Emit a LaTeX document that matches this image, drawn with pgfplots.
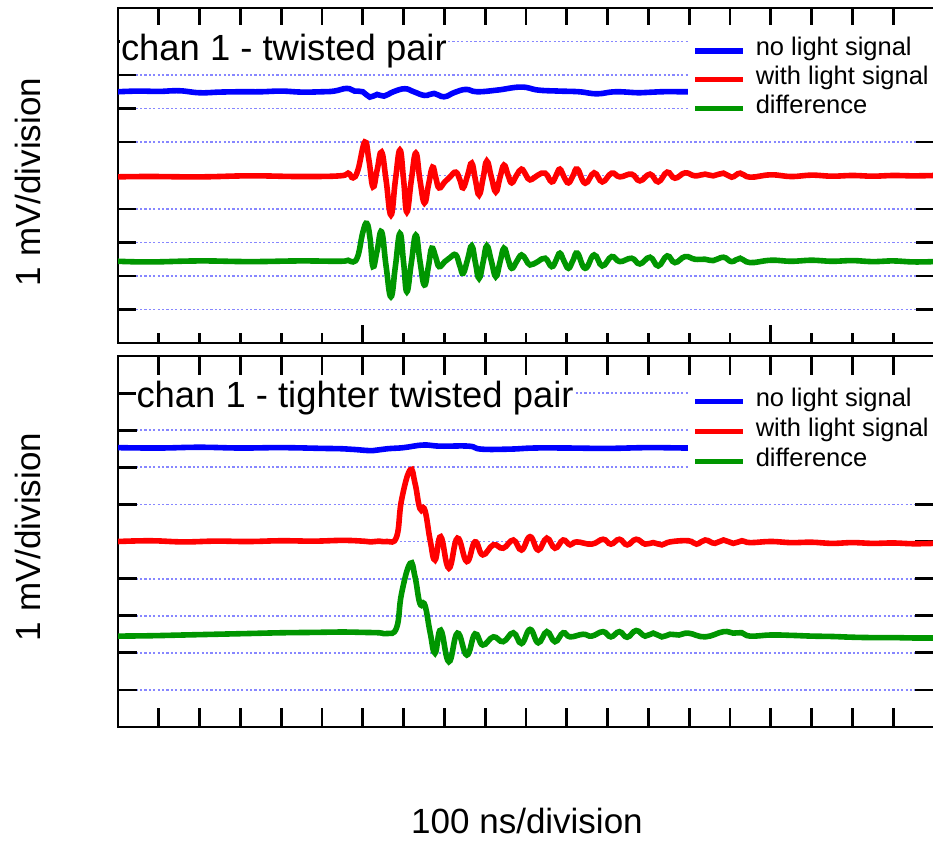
\documentclass[border=0pt]{standalone}
\usepackage{pgfplots}
\pgfplotsset{compat=1.18}
\usepackage{fontspec}
\setmainfont{Liberation Sans}

\definecolor{sigblue}{RGB}{0,0,255}
\definecolor{sigred}{RGB}{255,0,0}
\definecolor{siggreen}{RGB}{0,150,0}
\definecolor{gridblue}{RGB}{135,135,255}

% one oscilloscope panel: 20 x 10 divisions, no numbers
\pgfplotsset{
  scopepanel/.style={
    scale only axis, width=408pt,
    xmin=0, xmax=20, ymin=0, ymax=10,
    ytick={1,...,9},
    xticklabels={}, yticklabels={},
    tick align=inside,
    axis line style={line width=1.4pt},
    every tick/.append style={black, line width=1.4pt},
    ymajorgrids,
    major grid style={gridblue, line width=0.9pt, dash pattern=on 1.1pt off 1.1pt},
    legend image code/.code={\draw[#1, line width=2.7pt] (0pt,0pt) -- (24pt,0pt);},
    legend style={anchor=north west, draw=none, fill=white,
      inner xsep=2pt, inner ysep=0pt,
      font=\fontsize{12.75}{14}\selectfont,
      nodes={inner sep=0pt, text height=9.6pt, text depth=4.75pt},
      row sep=0pt, column sep=5pt},
    legend cell align=left,
  },
  trace/.style={line width=2.8pt, smooth, tension=0.75},
}

\begin{document}
\begin{tikzpicture}

% ---------- chan 1 - twisted pair ----------
\begin{axis}[scopepanel, at={(59pt,-4pt)}, anchor=north west, height=167.5pt,
    xtick pos=bottom,
    xtick={6,16},
    minor xtick={1,2,3,4,5,7,8,9,10,11,12,13,14,15,17,18,19},
    major tick length=9pt, minor tick length=5pt,
    legend style={at={(0.6985,0.916)}}]
\addplot[sigblue, trace] coordinates {
(0,7.50)(0.5,7.52)(1.0,7.51)(1.5,7.53)(2.0,7.47)(2.5,7.49)(3.0,7.50)(3.5,7.50)
(4.0,7.52)(4.5,7.49)(5.0,7.50)(5.3,7.52)(5.61,7.60)(5.8,7.52)(6.0,7.50)(6.17,7.34)
(6.35,7.42)(6.52,7.37)(6.75,7.50)(7.03,7.59)(7.25,7.50)(7.52,7.39)(7.75,7.45)(7.99,7.35)
(8.25,7.48)(8.53,7.57)(8.8,7.50)(9.3,7.55)(9.88,7.64)(10.3,7.55)(10.8,7.52)(11.3,7.50)
(11.74,7.44)(12.2,7.50)(12.8,7.47)(13.3,7.50)(14,7.50)(15,7.50)(16,7.49)(17,7.50)
(18,7.51)(19,7.50)(19.7,7.56)(20,7.55)};
\addplot[sigred, trace] coordinates {
(0,4.96)(0.78,4.97)(2.01,4.96)(3.24,4.99)(4.46,4.97)(5.44,4.99)(5.64,5.07)(5.76,4.93)
(5.88,5.16)(6.05,6.0)(6.15,5.46)(6.25,4.66)(6.35,5.16)(6.46,5.70)(6.57,4.87)(6.69,3.82)
(6.80,4.87)(6.91,5.76)(7.00,4.87)(7.08,3.91)(7.19,4.87)(7.30,5.67)(7.40,4.87)(7.51,4.18)
(7.61,4.72)(7.71,5.25)(7.79,4.93)(7.87,4.63)(8.01,4.81)(8.14,4.96)(8.28,5.10)(8.38,4.87)
(8.46,4.63)(8.57,5.01)(8.67,5.37)(8.76,4.87)(8.85,4.42)(8.95,4.93)(9.04,5.43)(9.15,4.96)
(9.26,4.51)(9.36,4.93)(9.46,5.31)(9.56,5.01)(9.65,4.78)(9.77,5.01)(9.89,5.19)(10.0,5.01)
(10.10,4.87)(10.29,5.01)(10.47,5.07)(10.63,4.81)(10.74,5.01)(10.83,5.19)(10.93,4.96)(11.04,4.78)
(11.15,4.99)(11.26,5.19)(11.45,4.77)(11.67,5.08)(11.87,4.81)(12.10,5.07)(12.30,4.96)(12.59,5.04)
(12.79,4.84)(13.04,5.04)(13.24,4.81)(13.46,5.10)(13.65,4.92)(13.90,5.08)(14.14,4.99)(14.39,5.04)
(14.59,4.99)(14.84,5.07)(15.04,4.95)(15.25,5.07)(15.49,4.95)(16,5.02)(16.5,4.97)(17,5.01)
(17.5,4.98)(18,5.0)(18.5,4.98)(19,5.0)(19.5,4.99)(20,5.0)};
\addplot[siggreen, trace] coordinates {
(0,2.44)(0.78,2.42)(2.01,2.45)(3.24,2.43)(4.46,2.45)(5.44,2.44)(5.64,2.47)(5.76,2.42)
(5.88,2.60)(6.0,3.3)(6.10,3.57)(6.18,3.10)(6.25,2.28)(6.35,2.75)(6.46,3.32)(6.57,2.30)
(6.69,1.38)(6.80,2.30)(6.91,3.27)(7.00,2.40)(7.08,1.53)(7.19,2.40)(7.30,3.22)(7.40,2.45)
(7.51,1.73)(7.61,2.30)(7.69,2.83)(7.79,2.55)(7.87,2.28)(8.01,2.43)(8.14,2.55)(8.28,2.63)
(8.38,2.30)(8.46,2.08)(8.57,2.50)(8.67,2.90)(8.76,2.40)(8.85,1.93)(8.95,2.42)(9.04,2.90)
(9.15,2.45)(9.26,1.98)(9.36,2.40)(9.46,2.83)(9.56,2.50)(9.65,2.23)(9.77,2.43)(9.89,2.63)
(10.0,2.48)(10.10,2.33)(10.29,2.43)(10.47,2.53)(10.63,2.28)(10.74,2.48)(10.83,2.68)(10.93,2.45)
(11.04,2.23)(11.15,2.46)(11.26,2.68)(11.45,2.23)(11.67,2.63)(11.87,2.30)(12.10,2.58)(12.30,2.43)
(12.59,2.53)(12.79,2.36)(13.04,2.56)(13.24,2.30)(13.46,2.60)(13.65,2.40)(13.90,2.58)(14.14,2.50)
(14.39,2.50)(14.59,2.46)(14.84,2.56)(15.04,2.43)(15.25,2.53)(15.49,2.40)(16,2.47)(16.5,2.44)
(17,2.47)(17.5,2.44)(18,2.46)(18.5,2.43)(19,2.45)(19.5,2.42)(20,2.43)};
\legend{no light signal, with light signal, difference}
\node[anchor=base west, fill=white, inner xsep=0.5pt, inner ysep=2pt,
      font=\fontsize{18.2}{21}\selectfont] at (rel axis cs:0.002,0.842) {chan 1 - twisted pair};
\end{axis}
% longer ticks along the top edge of the upper panel
\begin{axis}[scale only axis, width=408pt, height=167.5pt,
    at={(59pt,-4pt)}, anchor=north west,
    xmin=0, xmax=20, ymin=0, ymax=10,
    axis x line*=top, axis y line=none,
    xtick={1,...,19}, xticklabels={}, tick align=inside,
    major tick length=8.5pt,
    axis line style={line width=1.4pt},
    every tick/.append style={black, line width=1.4pt}]
\end{axis}

% ---------- chan 1 - tighter twisted pair ----------
\begin{axis}[scopepanel, at={(59pt,-178pt)}, anchor=north west, height=185.5pt,
    xtick={1,...,19},
    major tick length=9.5pt,
    legend style={at={(0.6985,0.919)}, nodes={text height=10.1pt, text depth=4.9pt}}]
\addplot[sigblue, trace] coordinates {
(0,7.53)(1,7.52)(2,7.54)(3,7.52)(4,7.53)(5,7.51)(5.5,7.50)(5.8,7.48)
(6.25,7.45)(6.6,7.50)(7.0,7.53)(7.48,7.60)(7.9,7.57)(8.6,7.57)(8.9,7.49)(9.6,7.49)
(10.2,7.52)(11,7.52)(12,7.51)(13,7.53)(14,7.52)(15,7.52)(16,7.51)(17,7.53)
(18,7.52)(19,7.52)(20,7.53)};
\addplot[sigred, trace] coordinates {
(0,5.00)(0.8,5.02)(1.6,4.99)(2.4,5.01)(3.2,5.00)(4.0,5.02)(4.8,5.01)(5.5,5.03)
(6.0,5.01)(6.2,4.99)(6.4,5.01)(6.6,5.0)(6.83,5.13)(6.95,6.12)(7.16,6.93)(7.28,6.57)
(7.40,5.89)(7.52,5.85)(7.65,5.04)(7.77,4.50)(7.91,5.13)(8.11,4.28)(8.32,5.09)(8.55,4.46)
(8.75,4.99)(8.94,4.64)(9.20,4.91)(9.44,4.82)(9.69,5.04)(9.89,4.77)(10.10,5.13)(10.30,4.77)
(10.51,5.09)(10.71,4.82)(10.91,5.04)(11.08,4.91)(11.24,4.99)(11.61,4.93)(11.89,5.06)(12.08,4.93)
(12.29,5.06)(12.48,4.91)(12.70,5.06)(12.92,4.93)(13.12,4.97)(13.33,4.91)(13.53,4.99)(13.98,5.02)
(14.18,4.93)(14.39,5.04)(14.63,4.95)(14.84,5.04)(15.08,4.95)(15.29,5.02)(15.49,4.97)(16,5.0)
(16.5,4.97)(17,4.98)(17.5,4.95)(18,4.97)(18.5,4.95)(19,4.96)(19.5,4.94)(20,4.95)};
\addplot[siggreen, trace] coordinates {
(0,2.45)(0.8,2.46)(1.6,2.48)(2.4,2.50)(3.2,2.52)(4.0,2.54)(4.8,2.55)(5.5,2.56)
(6.0,2.55)(6.4,2.54)(6.6,2.52)(6.83,2.68)(6.95,3.6)(7.16,4.41)(7.28,4.05)(7.40,3.33)
(7.52,3.29)(7.65,2.55)(7.77,1.99)(7.91,2.61)(8.11,1.76)(8.32,2.53)(8.55,1.94)(8.75,2.51)
(8.94,2.21)(9.20,2.43)(9.44,2.30)(9.69,2.54)(9.89,2.25)(10.10,2.63)(10.30,2.27)(10.51,2.57)
(10.71,2.30)(10.91,2.54)(11.08,2.43)(11.4,2.50)(11.61,2.45)(11.89,2.57)(12.08,2.43)(12.29,2.57)
(12.48,2.42)(12.70,2.60)(12.92,2.45)(13.12,2.53)(13.33,2.43)(13.53,2.50)(13.75,2.48)(13.98,2.53)
(14.39,2.43)(14.84,2.57)(15.08,2.53)(15.29,2.54)(15.49,2.45)(16,2.48)(16.5,2.47)(17,2.45)
(17.5,2.44)(18,2.42)(18.5,2.41)(19,2.41)(19.5,2.40)(20,2.40)};
\legend{no light signal, with light signal, difference}
\node[anchor=base west, fill=white, inner xsep=0.5pt, inner ysep=2pt,
      font=\fontsize{18.2}{21}\selectfont] at (rel axis cs:0.021,0.860) {chan 1 - tighter twisted pair};
\end{axis}

% axis descriptions
\node[rotate=90, anchor=base, font=\fontsize{17.5}{21}\selectfont] at (20pt,-91pt) {1 mV/division};
\node[rotate=90, anchor=base, font=\fontsize{17.5}{21}\selectfont] at (20pt,-268.5pt) {1 mV/division};
\node[anchor=base, font=\fontsize{17.5}{21}\selectfont] at (263.5pt,-416.5pt) {100 ns/division};

\pgfresetboundingbox
\path[use as bounding box] (0pt,0pt) rectangle (466.5pt,-420.5pt);
\end{tikzpicture}
\end{document}
